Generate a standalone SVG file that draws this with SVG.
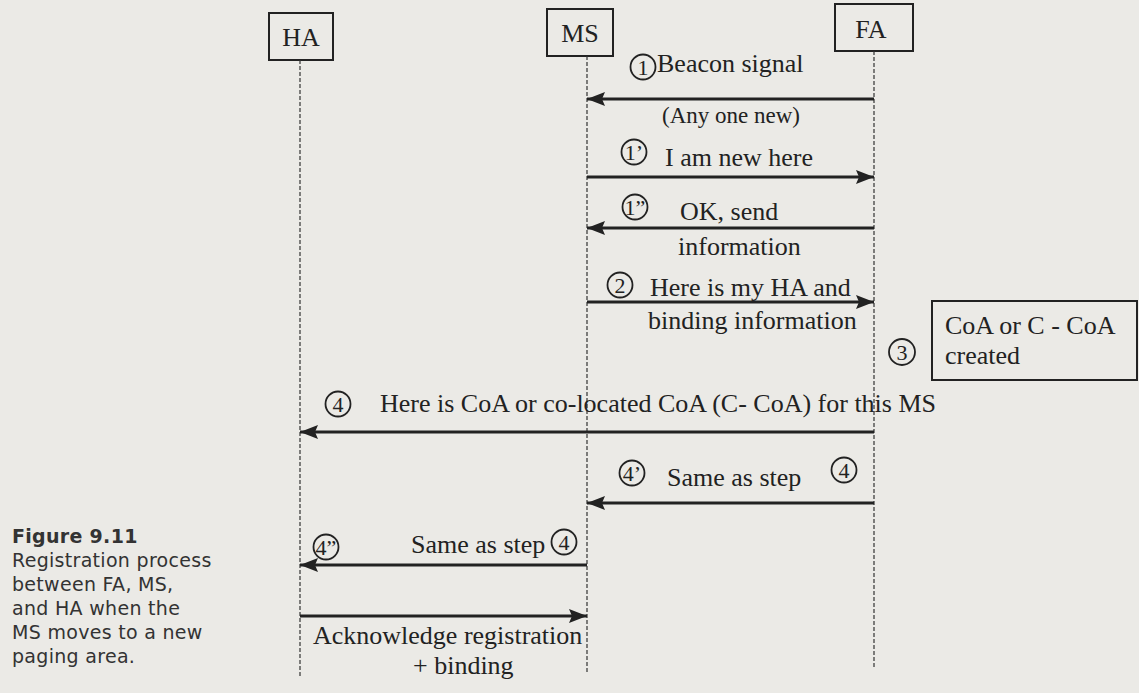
<svg xmlns="http://www.w3.org/2000/svg" width="1139" height="693" viewBox="0 0 1139 693">
<defs>
<style>
.t{font-family:"Liberation Serif","Times New Roman",serif;font-size:26px;fill:#222}
.n{font-family:"Liberation Serif","Times New Roman",serif;font-size:22px;fill:#222;text-anchor:middle}
.box{fill:none;stroke:#222;stroke-width:2}
.c{fill:none;stroke:#222;stroke-width:1.8}
.life{stroke:#333;stroke-width:1.2;stroke-dasharray:4 2;fill:none}
.msg{stroke:#222;stroke-width:3;fill:none}
.cap{font-family:"DejaVu Sans","Liberation Sans",sans-serif;font-size:19px;fill:#333;letter-spacing:0.3px}
</style>
<marker id="ah" markerUnits="userSpaceOnUse" viewBox="0 0 18 14" refX="18" refY="7" markerWidth="18" markerHeight="14" orient="auto">
<path d="M0,0 L18,7 L0,14 L3,7 Z" fill="#222"/>
</marker>
</defs>
<rect x="0" y="0" width="1139" height="693" fill="#ebeae6"/>

<g id="HA">
<rect class="box" x="269" y="13" width="64" height="47"/>
<text class="t" x="301" y="46" text-anchor="middle">HA</text>
</g>
<g id="MS">
<rect class="box" x="547" y="9" width="66" height="47"/>
<text class="t" x="580" y="42" text-anchor="middle">MS</text>
</g>
<g id="FA">
<rect class="box" x="835" y="4" width="78" height="47"/>
<text class="t" x="871" y="38" text-anchor="middle">FA</text>
</g>
<g id="CoA">
<rect class="box" x="932" y="301" width="205" height="79"/>
<text class="t" x="945" y="334">CoA or C - CoA</text>
<text class="t" x="945" y="364">created</text>
</g>

<g id="lifelines">
<line class="life" x1="300" y1="60" x2="300" y2="677"/>
<line class="life" x1="587" y1="56" x2="587" y2="672"/>
<line class="life" x1="874" y1="51" x2="874" y2="667"/>
</g>

<g id="connectors">
<line class="msg" x1="874" y1="99" x2="587" y2="99" marker-end="url(#ah)"/>
<line class="msg" x1="587" y1="177" x2="874" y2="177" marker-end="url(#ah)"/>
<line class="msg" x1="874" y1="228" x2="587" y2="228" marker-end="url(#ah)"/>
<line class="msg" x1="587" y1="302" x2="874" y2="302" marker-end="url(#ah)"/>
<line class="msg" x1="874" y1="432" x2="300" y2="432" marker-end="url(#ah)"/>
<line class="msg" x1="874" y1="503" x2="587" y2="503" marker-end="url(#ah)"/>
<line class="msg" x1="587" y1="565" x2="300" y2="565" marker-end="url(#ah)"/>
<line class="msg" x1="300" y1="616" x2="587" y2="616" marker-end="url(#ah)"/>
</g>

<g id="labels">
<circle class="c" cx="643" cy="67" r="12.5"/><text class="n" x="643" y="74.5">1</text>
<text class="t" x="657" y="72">Beacon signal</text>
<text class="t" x="662" y="123" style="font-size:23px">(Any one new)</text>

<circle class="c" cx="634" cy="152" r="12.5"/><text class="n" x="634" y="159.5">1’</text>
<text class="t" x="665" y="166">I am new here</text>

<circle class="c" cx="635" cy="207" r="12.5"/><text class="n" x="635" y="214.5">1”</text>
<text class="t" x="680" y="220">OK, send</text>
<text class="t" x="678" y="255">information</text>

<circle class="c" cx="620" cy="285" r="12.5"/><text class="n" x="620" y="292.5">2</text>
<text class="t" x="650" y="296">Here is my HA and</text>
<text class="t" x="648" y="329">binding information</text>

<circle class="c" cx="902" cy="352" r="13"/><text class="n" x="902" y="359.5">3</text>

<circle class="c" cx="338" cy="404" r="12.5"/><text class="n" x="338" y="411.5">4</text>
<text class="t" x="380" y="412">Here is CoA or co-located CoA (C- CoA) for this MS</text>

<circle class="c" cx="632" cy="473" r="12.5"/><text class="n" x="632" y="480.5">4’</text>
<text class="t" x="667" y="486">Same as step</text>
<circle class="c" cx="844" cy="470" r="12.5"/><text class="n" x="844" y="477.5">4</text>

<circle class="c" cx="326" cy="547" r="12.5"/><text class="n" x="326" y="554.5">4”</text>
<text class="t" x="411" y="553">Same as step</text>
<circle class="c" cx="564" cy="542" r="12.5"/><text class="n" x="564" y="549.5">4</text>

<text class="t" x="313" y="644">Acknowledge registration</text>
<text class="t" x="413" y="674">+ binding</text>
</g>

<g id="caption">
<text class="cap" x="12" y="543" font-weight="bold">Figure 9.11</text>
<text class="cap" x="12" y="567">Registration process</text>
<text class="cap" x="12" y="591">between FA, MS,</text>
<text class="cap" x="12" y="615">and HA when the</text>
<text class="cap" x="12" y="639">MS moves to a new</text>
<text class="cap" x="12" y="663">paging area.</text>
</g>
</svg>
